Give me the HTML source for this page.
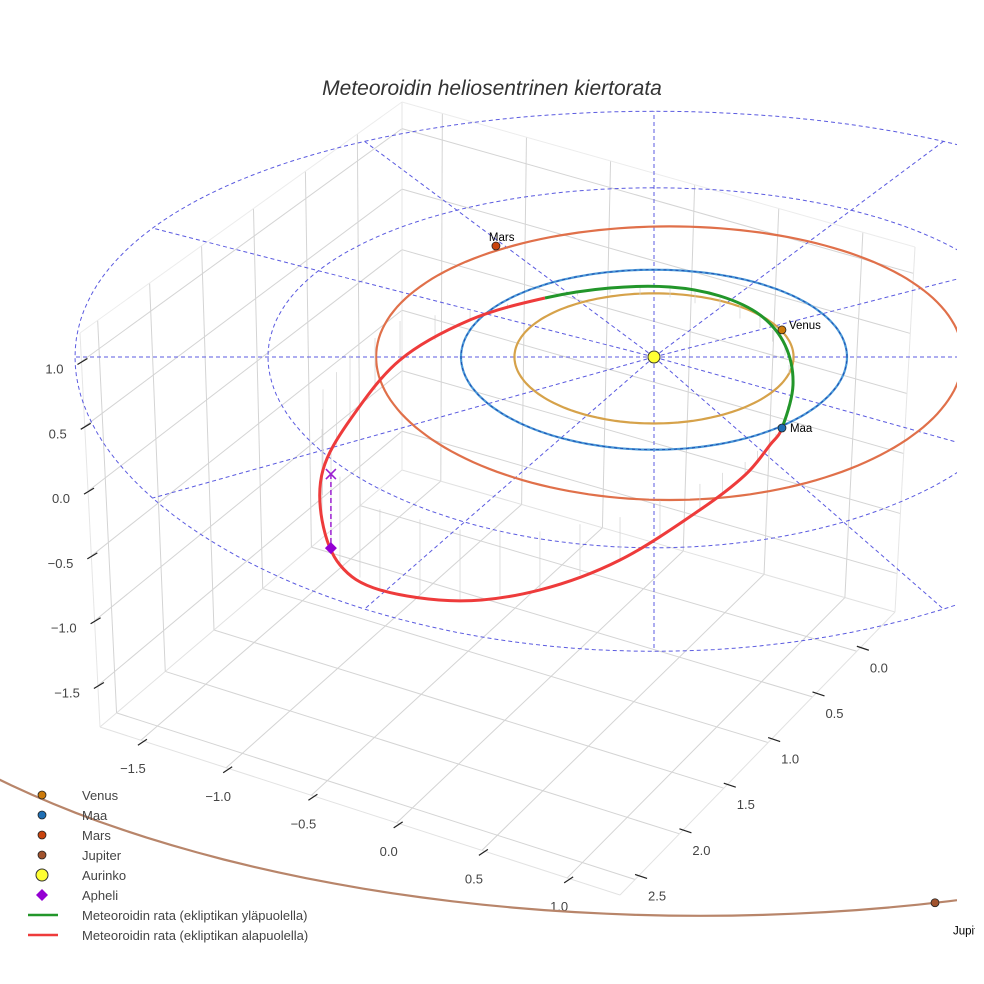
<!DOCTYPE html>
<html><head><meta charset="utf-8">
<style>
html,body{margin:0;padding:0;background:#fff;}
svg{display:block;font-family:"Liberation Sans",sans-serif;}
</style></head>
<body>
<svg id="chart" width="984" height="984" viewBox="0 0 984 984" xmlns="http://www.w3.org/2000/svg">
<defs><clipPath id="sceneClip"><rect x="0" y="40" width="957" height="944"/></clipPath>
<clipPath id="labelClip"><rect x="0" y="0" width="975" height="984"/></clipPath></defs>
<text x="492" y="95" text-anchor="middle" font-size="21" font-style="italic" fill="#333">Meteoroidin heliosentrinen kiertorata</text>
<g id="box"></g>
<g id="ticks"></g>
<g id="scene" clip-path="url(#sceneClip)"></g>
<g id="labels" clip-path="url(#labelClip)"></g>
<g id="legend"></g>
</svg>
<script>
// ---- data ----
const xTicks = [-1.5, -1.0, -0.5, 0.0, 0.5, 1.0];
const yTicks = [0.0, 0.5, 1.0, 1.5, 2.0, 2.5];
const zTicks = [1.0, 0.5, 0.0, -0.5, -1.0, -1.5];
const xTickLabels = ["\u22121.5", "\u22121.0", "\u22120.5", "0.0", "0.5", "1.0"];
const yTickLabels = ["0.0", "0.5", "1.0", "1.5", "2.0", "2.5"];
const zTickLabels = ["1.0", "0.5", "0.0", "\u22120.5", "\u22121.0", "\u22121.5"];
const ringRadii = [1, 2, 3];
const spokeAngles = [0, 30, 60, 90, 120, 150, 180, 210, 240, 270, 300, 330];
const planetNames = ["Venus", "Maa", "Mars", "Jupiter"];
const orbitRadiiX = [0.723, 1.0, 1.52, 4.66];
const orbitRadiiY = [0.723, 1.0, 1.52, 3.15];
const orbitCenterX = [0, 0, 0.08, 0.24];
const orbitCenterY = [0, 0, 0, -2.2];
const planetX = [0.663, 0.663, -0.819, 1.456];
const planetY = [0.304, -0.771, 1.283, -5.24];
// meteoroid path (ecliptic-projected AU) and height above ecliptic
const meteorX = [0.663, 0.720, 0.679, 0.549, 0.342, 0.083, -0.228, -0.565, -0.953, -1.316, -1.575, -1.715, -1.720, -1.627, -1.420, -1.005, -0.591, -0.176, 0.238, 0.472, 0.601];
const meteorY = [-0.771, -0.308, 0.134, 0.474, 0.692, 0.797, 0.785, 0.669, 0.417, -0.033, -0.685, -1.211, -1.722, -2.170, -2.413, -2.520, -2.413, -2.121, -1.620, -1.263, -0.950];
const meteorZ = [0.0, 0.05, 0.08, 0.10, 0.10, 0.08, 0.04, 0.0, -0.08, -0.30, -0.50, -0.62, -0.70, -0.68, -0.62, -0.55, -0.45, -0.33, -0.20, -0.10, -0.04];
const aboveCount = 8;
const apheliX = -1.674, apheliY = -1.253, apheliZ = -0.57;

// ---- projection ----
const SX = 654, SY = 357, KX = 193, KY = 90, PERSP = 0.03, KZ = 130;
function proj(X, Y) { return [SX + KX * X, SY - KY * Y * (1 - PERSP * Y)]; }
const NS = "http://www.w3.org/2000/svg";
function mk(tag, attrs, parent) {
  const e = document.createElementNS(NS, tag);
  for (const k in attrs) e.setAttribute(k, attrs[k]);
  parent.appendChild(e);
  return e;
}
const xmin = -1.74, xmax = 1.31, yF = 2.67, yR = -0.43, zmin = -1.82, zmax = 1.22;
const L = [100, 727], F = [620, 895], R = [895, 612], B = [402, 470];
const Lt = [80, 333], Bt = [402, 102], Rt = [915, 247];
function lerp(a, b, t) { return [a[0] + (b[0] - a[0]) * t, a[1] + (b[1] - a[1]) * t]; }
function floorPt(x, y) {
  const u = (x - xmin) / (xmax - xmin), v = (yF - y) / (yF - yR);
  return lerp(lerp(L, F, u), lerp(B, R, u), v);
}
function leftWall(y, z) {
  const v = (yF - y) / (yF - yR), w = (z - zmin) / (zmax - zmin);
  return lerp(lerp(L, B, v), lerp(Lt, Bt, v), w);
}
function rightWall(x, z) {
  const u = (x - xmin) / (xmax - xmin), w = (z - zmin) / (zmax - zmin);
  return lerp(lerp(B, R, u), lerp(Bt, Rt, u), w);
}
const box = document.getElementById('box');
function gl(a, b, name, col) {
  const l = mk('line', { x1: a[0], y1: a[1], x2: b[0], y2: b[1], stroke: col || '#d4d4d4', 'stroke-width': 1 }, box);
  
  
}
xTicks.forEach(x => gl(floorPt(x, yF), floorPt(x, yR), 'floor-gridline-x'));
yTicks.forEach(y => gl(floorPt(xmin, y), floorPt(xmax, y), 'floor-gridline-y'));
gl(L, F, 'floor-edge', '#e2e2e2'); gl(F, R, 'floor-edge', '#e2e2e2'); gl(L, B, 'floor-edge', '#e2e2e2'); gl(B, R, 'floor-edge', '#e2e2e2');
yTicks.forEach(y => gl(leftWall(y, zmin), leftWall(y, zmax), 'left-wall-gridline'));
zTicks.forEach(z => gl(leftWall(yF, z), leftWall(yR, z), 'left-wall-gridline'));
gl(L, Lt, 'wall-edge', '#e6e6e6'); gl(Lt, Bt, 'wall-edge', '#ececec'); gl(B, Bt, 'wall-edge', '#e6e6e6');
xTicks.forEach(x => gl(rightWall(x, zmin), rightWall(x, zmax), 'right-wall-gridline'));
zTicks.forEach(z => gl(rightWall(xmin, z), rightWall(xmax, z), 'right-wall-gridline'));
gl(Bt, Rt, 'wall-edge', '#ececec'); gl(R, Rt, 'wall-edge', '#e6e6e6');

// ticks and labels
const tk = document.getElementById('ticks');
function tickLabel(x, y, txt, name, anchor) {
  const t = mk('text', { x: x, y: y, 'font-size': 13, fill: '#444', 'text-anchor': anchor || 'middle' }, tk);
  t.textContent = txt;
  
  
}
function tickMark(a, b, name) {
  const l = mk('line', { x1: a[0], y1: a[1], x2: b[0], y2: b[1], stroke: '#222', 'stroke-width': 1.2 }, tk);
  
  
}
xTicks.forEach((x, i) => {
  const p = floorPt(x, yF);
  tickMark([p[0] - 3, p[1] + 5], [p[0] + 6, p[1] - 1], 'x-tick');
  tickLabel(p[0] - 8, p[1] + 33, xTickLabels[i], 'x-tick-label');
});
yTicks.forEach((y, i) => {
  const p = floorPt(xmax, y);
  tickMark([p[0], p[1] - 5], [p[0] + 12, p[1] - 1], 'y-tick');
  tickLabel(p[0] + 22, p[1] + 21, yTickLabels[i], 'y-tick-label');
});
zTicks.forEach((z, i) => {
  const p = leftWall(yF, z);
  tickMark([p[0] - 4, p[1] + 3], [p[0] + 6, p[1] - 3], 'z-tick');
  tickLabel(p[0] - 18, p[1] + 12, zTickLabels[i], 'z-tick-label', 'end');
});

// ---- ecliptic scene ----
const sc = document.getElementById('scene');
function ellPath(rx, ry, cx, cy, a0, a1) {
  let d = '';
  for (let a = a0; a <= a1; a += 2) {
    const t = a * Math.PI / 180;
    const p = proj(cx + rx * Math.cos(t), cy + ry * Math.sin(t));
    d += (a === a0 ? 'M' : 'L') + p[0].toFixed(1) + ' ' + p[1].toFixed(1);
  }
  return d;
}
ringRadii.forEach(r => {
  const e = mk('path', { d: ellPath(r, r, 0, 0, 0, 360), fill: 'none', stroke: '#5b5be0', 'stroke-width': 1, 'stroke-dasharray': '4 3' }, sc);
  
  
});
spokeAngles.forEach(a => {
  const t = a * Math.PI / 180, r = 3;
  const p = proj(r * Math.cos(t), r * Math.sin(t));
  const e = mk('line', { x1: SX, y1: SY, x2: p[0], y2: p[1], stroke: '#5b5be0', 'stroke-width': 1, 'stroke-dasharray': '4 3' }, sc);
  
  
});
const orbitColors = ['#d6a24a', '#4a98d8', '#e0704a', '#b8856a'];
const markerColors = ['#cc7a0a', '#1f6fb4', '#c8440e', '#a0522d'];
orbitRadiiX.forEach((r, i) => {
  const full = i < 3;
  const e = mk('path', { d: ellPath(r, orbitRadiiY[i], orbitCenterX[i], orbitCenterY[i], full ? 0 : 180, 360), fill: 'none', stroke: orbitColors[i], 'stroke-width': 2.2 }, sc);
  
  
});
const earthDash = mk('path', { d: ellPath(orbitRadiiX[1], orbitRadiiY[1], 0, 0, 0, 360), fill: 'none', stroke: '#1f4fb0', 'stroke-width': 1, 'stroke-dasharray': '3 3' }, sc);



// meteoroid
const mpts = meteorX.map((x, i) => proj(x, meteorY[i]));
function crPath(idx) {
  let d = 'M' + mpts[idx[0]][0].toFixed(1) + ' ' + mpts[idx[0]][1].toFixed(1);
  const n = mpts.length;
  for (let k = 0; k < idx.length - 1; k++) {
    const i1 = idx[k], i2 = idx[k + 1];
    const i0 = (i1 - 1 + n) % n, i3 = (i2 + 1) % n;
    const p0 = mpts[i0], p1 = mpts[i1], p2 = mpts[i2], p3 = mpts[i3];
    const c1 = [p1[0] + (p2[0] - p0[0]) / 6, p1[1] + (p2[1] - p0[1]) / 6];
    const c2 = [p2[0] - (p3[0] - p1[0]) / 6, p2[1] - (p3[1] - p1[1]) / 6];
    d += 'C' + c1.map(v => v.toFixed(1)).join(' ') + ' ' + c2.map(v => v.toFixed(1)).join(' ') + ' ' + p2[0].toFixed(1) + ' ' + p2[1].toFixed(1);
  }
  return d;
}
for (let i = 0; i < mpts.length; i++) {
  const j = (i + 1) % mpts.length;
  [[mpts[i], meteorZ[i]], [[(mpts[i][0] + mpts[j][0]) / 2, (mpts[i][1] + mpts[j][1]) / 2], (meteorZ[i] + meteorZ[j]) / 2]].forEach(([p, z]) => {
    if (Math.abs(z) < 0.02) return;
    const s = mk('line', { x1: p[0], y1: p[1], x2: p[0], y2: p[1] + z * KZ, stroke: '#d2d2d2', 'stroke-width': 0.7 }, sc);
    
    
  });
}
const idxAbove = [], idxBelow = [];
for (let i = 0; i < aboveCount; i++) idxAbove.push(i);
for (let i = aboveCount - 1; i < mpts.length; i++) idxBelow.push(i);
idxBelow.push(0);
const mBelow = mk('path', { d: crPath(idxBelow), fill: 'none', stroke: '#ee3b3b', 'stroke-width': 3 }, sc);


const mAbove = mk('path', { d: crPath(idxAbove), fill: 'none', stroke: '#22962a', 'stroke-width': 3 }, sc);



const ap = proj(apheliX, apheliY);
const apd = [ap[0], ap[1] - apheliZ * KZ];
const apl = mk('line', { x1: ap[0], y1: ap[1], x2: apd[0], y2: apd[1], stroke: '#9b1fd0', 'stroke-width': 1.5, 'stroke-dasharray': '5 3' }, sc);


const apx = mk('path', { d: `M${ap[0] - 5} ${ap[1] - 5}L${ap[0] + 5} ${ap[1] + 5}M${ap[0] + 5} ${ap[1] - 5}L${ap[0] - 5} ${ap[1] + 5}`, stroke: '#9b1fd0', 'stroke-width': 1.6 }, sc);


const apm = mk('path', { d: `M${apd[0]} ${apd[1] - 6}L${apd[0] + 6} ${apd[1]}L${apd[0]} ${apd[1] + 6}L${apd[0] - 6} ${apd[1]}Z`, fill: '#9400d3' }, sc);



const sun = mk('circle', { cx: SX, cy: SY, r: 6, fill: '#ffff33', stroke: '#333', 'stroke-width': 1 }, sc);


const labelDx = [7, 8, -7, 18], labelDy = [-1, 4, -5, 32];
const labs = document.getElementById('labels');
planetNames.forEach((n, i) => {
  const p = proj(planetX[i], planetY[i]);
  const c = mk('circle', { cx: p[0], cy: p[1], r: 4, fill: markerColors[i], stroke: '#222', 'stroke-width': 0.8 }, sc);
  
  
  const t = mk('text', { x: p[0] + labelDx[i], y: p[1] + labelDy[i], 'font-size': 11.5, fill: '#000' }, labs);
  t.textContent = n;
  
  
});

// ---- legend ----
const lg = document.getElementById('legend');
const legendLabels = ["Venus", "Maa", "Mars", "Jupiter", "Aurinko", "Apheli", "Meteoroidin rata (ekliptikan yläpuolella)", "Meteoroidin rata (ekliptikan alapuolella)"];
legendLabels.forEach((lab, i) => {
  const y = 795 + i * 20;
  const g = mk('g', {}, lg);
  
  
  let m;
  if (i < 4) m = mk('circle', { cx: 42, cy: y, r: 4, fill: markerColors[i], stroke: '#222', 'stroke-width': 0.8 }, g);
  else if (i === 4) m = mk('circle', { cx: 42, cy: y, r: 6, fill: '#ffff33', stroke: '#333', 'stroke-width': 1 }, g);
  else if (i === 5) m = mk('path', { d: `M42 ${y - 6}L48 ${y}L42 ${y + 6}L36 ${y}Z`, fill: '#9400d3' }, g);
  else m = mk('line', { x1: 28, y1: y, x2: 58, y2: y, stroke: i === 6 ? '#22962a' : '#ee3b3b', 'stroke-width': 2.5 }, g);
  
  
  const t = mk('text', { x: 82, y: y + 5, 'font-size': 13, fill: '#444' }, g);
  t.textContent = lab;
  
  
});
</script>
</body></html>
